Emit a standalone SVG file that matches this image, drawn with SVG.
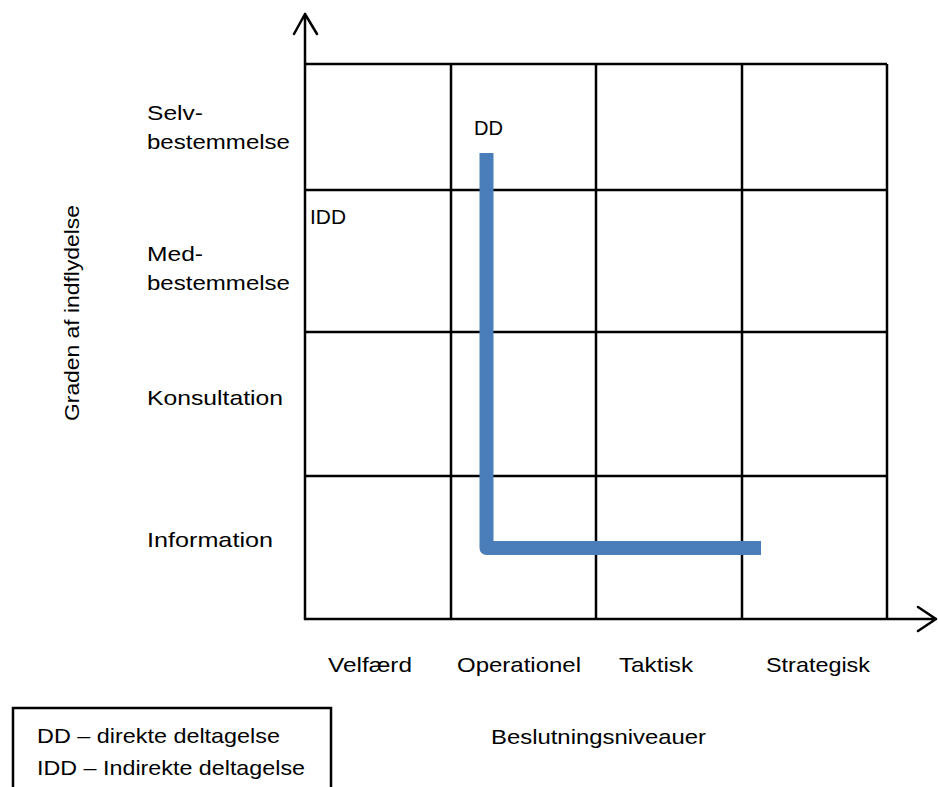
<svg xmlns="http://www.w3.org/2000/svg" width="938" height="787" viewBox="0 0 938 787">
<style>
text{font-family:"Liberation Sans",Arial,sans-serif;font-size:21px;fill:#000}
.g{stroke:#000;stroke-width:2.5;fill:none}
.ax{stroke:#000;stroke-width:2.5;fill:none;stroke-linecap:round;stroke-linejoin:round}
</style>
<rect width="938" height="787" fill="#fff"/>
<g id="grid">
<line class="g" x1="305" y1="64" x2="887" y2="64"/>
<line class="g" x1="305" y1="190" x2="887" y2="190"/>
<line class="g" x1="305" y1="332" x2="887" y2="332"/>
<line class="g" x1="305" y1="476" x2="887" y2="476"/>
<line class="g" x1="451" y1="64" x2="451" y2="619"/>
<line class="g" x1="596" y1="64" x2="596" y2="619"/>
<line class="g" x1="742" y1="64" x2="742" y2="619"/>
<line class="g" x1="887" y1="64" x2="887" y2="619"/>
</g>
<g id="connectors">
<path class="ax" d="M305 619 V14 M294 34 L305 14 L317 34"/>
<path class="ax" d="M305 619 H936 M918 607 L936 619 L918 631"/>
<path d="M486.5 153 V548 H761" stroke="#4a7ebb" stroke-width="14" fill="none" stroke-linejoin="round"/>
</g>
<g id="y-labels">
<text x="147" y="120" textLength="56" lengthAdjust="spacingAndGlyphs">Selv-</text>
<text x="147" y="149" textLength="143" lengthAdjust="spacingAndGlyphs">bestemmelse</text>
<text x="147" y="261" textLength="56" lengthAdjust="spacingAndGlyphs">Med-</text>
<text x="147" y="290" textLength="143" lengthAdjust="spacingAndGlyphs">bestemmelse</text>
<text x="147" y="405" textLength="136" lengthAdjust="spacingAndGlyphs">Konsultation</text>
<text x="147" y="547" textLength="126" lengthAdjust="spacingAndGlyphs">Information</text>
</g>
<g id="markers">
<text x="474" y="135" textLength="29" lengthAdjust="spacingAndGlyphs">DD</text>
<text x="310" y="224" textLength="36" lengthAdjust="spacingAndGlyphs">IDD</text>
</g>
<g id="x-labels">
<text x="328" y="672" textLength="84" lengthAdjust="spacingAndGlyphs">Velfærd</text>
<text x="457" y="672" textLength="124" lengthAdjust="spacingAndGlyphs">Operationel</text>
<text x="619" y="672" textLength="74" lengthAdjust="spacingAndGlyphs">Taktisk</text>
<text x="766" y="672" textLength="104" lengthAdjust="spacingAndGlyphs">Strategisk</text>
<text x="491" y="744" textLength="215" lengthAdjust="spacingAndGlyphs">Beslutningsniveauer</text>
</g>
<g id="y-title">
<text transform="translate(79,421) rotate(-90)" x="0" y="0" textLength="216" lengthAdjust="spacingAndGlyphs">Graden af indflydelse</text>
</g>
<g id="legend">
<rect x="13" y="708" width="318" height="90" fill="none" stroke="#000" stroke-width="2.5"/>
<text x="37" y="743" textLength="243" lengthAdjust="spacingAndGlyphs">DD – direkte deltagelse</text>
<text x="37" y="775" textLength="268" lengthAdjust="spacingAndGlyphs">IDD – Indirekte deltagelse</text>
</g>
</svg>
